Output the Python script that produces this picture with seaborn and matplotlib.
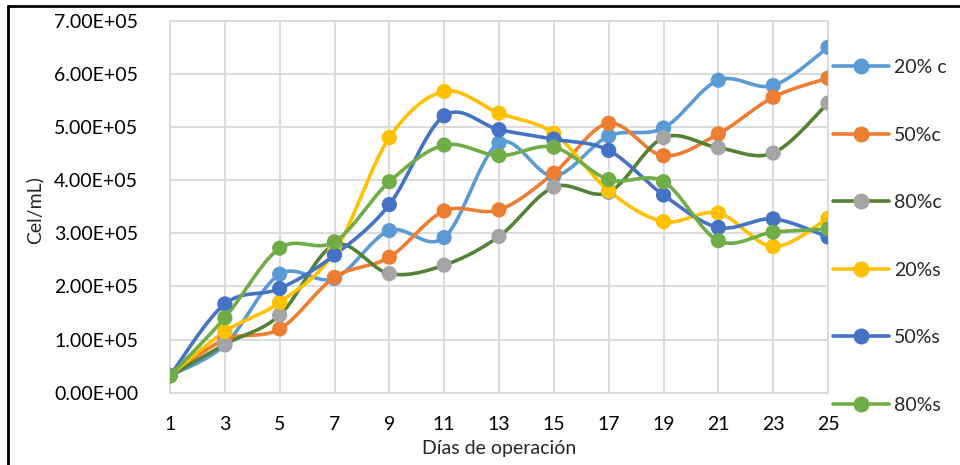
import numpy as np
import pandas as pd
import seaborn as sns
import matplotlib.pyplot as plt
from matplotlib.lines import Line2D
from matplotlib.ticker import FuncFormatter

days = [1, 3, 5, 7, 9, 11, 13, 15, 17, 19, 21, 23, 25]

c20 = [3.2e4, 0.90e5, 2.23e5, 2.15e5, 3.05e5, 2.92e5, 4.70e5, 4.08e5, 4.83e5, 4.98e5, 5.88e5, 5.78e5, 6.50e5]
c50 = [3.2e4, 1.00e5, 1.20e5, 2.17e5, 2.55e5, 3.42e5, 3.44e5, 4.13e5, 5.07e5, 4.46e5, 4.87e5, 5.56e5, 5.92e5]
c80 = [3.2e4, 0.91e5, 1.46e5, 2.78e5, 2.24e5, 2.40e5, 2.94e5, 3.87e5, 3.77e5, 4.80e5, 4.61e5, 4.51e5, 5.45e5]
s20 = [3.2e4, 1.15e5, 1.70e5, 2.65e5, 4.80e5, 5.67e5, 5.26e5, 4.88e5, 3.80e5, 3.22e5, 3.38e5, 2.75e5, 3.28e5]
s50 = [3.2e4, 1.67e5, 1.96e5, 2.59e5, 3.54e5, 5.21e5, 4.95e5, 4.77e5, 4.56e5, 3.72e5, 3.11e5, 3.27e5, 2.93e5]
s80 = [3.2e4, 1.41e5, 2.72e5, 2.84e5, 3.97e5, 4.66e5, 4.46e5, 4.62e5, 4.01e5, 3.97e5, 2.86e5, 3.02e5, 3.08e5]

labels = ["20% c", "50%c", "80%c", "20%s", "50%s", "80%s"]
series = [c20, c50, c80, s20, s50, s80]
line_colors = ["#5B9BD5", "#ED7D31", "#548235", "#FFC000", "#4472C4", "#70AD47"]
marker_colors = ["#5B9BD5", "#ED7D31", "#A5A5A5", "#FFC000", "#4472C4", "#70AD47"]


def smooth(x, y, n=30):
    """Excel-like smoothed line (Catmull-Rom through the points)."""
    p = np.column_stack([x, y]).astype(float)
    p = np.vstack([p[0], p, p[-1]])
    out = []
    t = np.linspace(0, 1, n)[:, None]
    for i in range(1, len(p) - 2):
        p0, p1, p2, p3 = p[i - 1], p[i], p[i + 1], p[i + 2]
        b1 = p1 + (p2 - p0) / 6
        b2 = p2 - (p3 - p1) / 6
        seg = ((1 - t) ** 3) * p1 + 3 * ((1 - t) ** 2) * t * b1 \
            + 3 * (1 - t) * t ** 2 * b2 + t ** 3 * p2
        out.append(seg if i == 1 else seg[1:])
    out = np.vstack(out)
    return out[:, 0], out[:, 1]


sns.set_style("white")
plt.rcParams["font.family"] = ["Lato", "DejaVu Sans"]

fig = plt.figure(figsize=(9.6, 4.65), dpi=100)
ax = fig.add_axes([170 / 960, 1 - 392.7 / 465, (828 - 170) / 960, (392.7 - 20.7) / 465])

handles = []
for lab, vals, lc, mc in zip(labels, series, line_colors, marker_colors):
    sx, sy = smooth(days, vals)
    curve = pd.DataFrame({"day": sx, "val": sy})
    pts = pd.DataFrame({"day": days, "val": vals})
    sns.lineplot(data=curve, x="day", y="val", color=lc, linewidth=2.6,
                 sort=False, ax=ax, zorder=3)
    sns.scatterplot(data=pts, x="day", y="val", color=mc, s=120,
                    edgecolor="none", ax=ax, zorder=4)
    handles.append(Line2D([], [], color=lc, linewidth=2.6, marker="o",
                          markersize=10.5, markerfacecolor=mc,
                          markeredgecolor=mc))

ax.set_xlim(1, 25)
ax.set_ylim(0, 7e5)
ax.set_xticks(days)
ax.set_yticks(np.arange(0, 7.01e5, 1e5))
ax.yaxis.set_major_formatter(FuncFormatter(lambda v, _: f"{v:.2E}"))
ax.tick_params(axis="both", length=0, labelsize=14, colors="black")
ax.tick_params(axis="x", pad=17)
ax.tick_params(axis="y", pad=23)
ax.grid(True, color="#D9D9D9", linewidth=1.3)
ax.set_axisbelow(True)
for side in ["top", "right", "left", "bottom"]:
    ax.spines[side].set_color("#D9D9D9")
    ax.spines[side].set_linewidth(1.3)

ax.set_xlabel("Días de operación", fontsize=14)
ax.set_ylabel("Cel/mL)", fontsize=14)
ax.xaxis.set_label_coords(0.5, -0.128)
ax.yaxis.set_label_coords(-0.192, 0.49)

fig.legend(handles, labels, loc="upper left", bbox_to_anchor=(833 / 960, 1 - 59 / 465),
           frameon=False, fontsize=14, handlelength=2.9, handletextpad=0.25,
           labelspacing=2.6, borderaxespad=0, borderpad=0)

# outer chart border (top and left visible)
fig.add_artist(Line2D([8 / 960, 8 / 960], [0, 1 - 6 / 465], color="black", linewidth=2,
                      transform=fig.transFigure))
fig.add_artist(Line2D([8 / 960, 1], [1 - 6 / 465, 1 - 6 / 465], color="black", linewidth=2,
                      transform=fig.transFigure))

fig.savefig("out.png", dpi=100)
